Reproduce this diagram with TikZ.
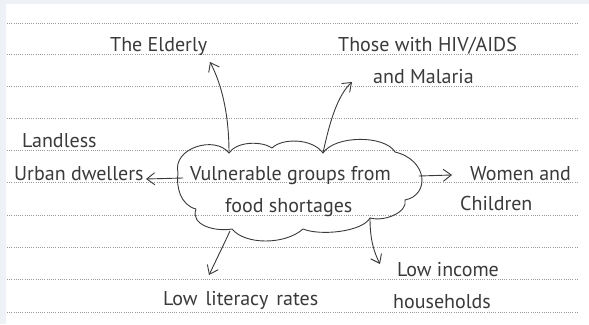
\documentclass[tikz,border=0pt]{standalone}
\usepackage{fontspec}
\setmainfont{PT Sans}
\usetikzlibrary{arrows.meta}
\definecolor{ink}{HTML}{3A3A3A}
\definecolor{rule}{HTML}{9A9A9A}
\definecolor{edge}{HTML}{EEF1F6}
\tikzset{
  lbl/.style={text=ink, inner sep=0pt, anchor=base west, font=\fontsize{20}{24}\selectfont},
  pen/.style={draw=ink, line width=0.9pt, line cap=round, line join=round},
  arr/.style={pen, -{Straight Barb[length=8pt,width=12pt,line width=0.9pt]}},
  ruled/.style={draw=rule, line width=0.6pt, dash pattern=on 1pt off 1.2pt}
}
\begin{document}
\begin{tikzpicture}[x=1pt,y=-1pt]
\useasboundingbox (0,0) rectangle (589,324);
\fill[white] (0,0) rectangle (589,324);
\fill[edge] (0,0) rectangle (589,4);
\fill[edge] (0,0) rectangle (6,324);
% ruled lines
\foreach \yy in {23,54,86,118,150,182,215,247,279,312}
  \draw[ruled] (7,\yy) -- (578,\yy);
% cloud outline
\coordinate (v1) at (178,173);
\coordinate (v2) at (229,153);
\coordinate (v3) at (272,148);
\coordinate (v4) at (323,153);
\coordinate (v5) at (395,152);
\coordinate (v6) at (405,200);
\coordinate (v7) at (370,218);
\coordinate (v8) at (303,229);
\coordinate (v9) at (232,229);
\coordinate (v10) at (196,209);
\draw[pen] (v1) .. controls (172,148) and (215,135) .. (v2)
  .. controls (237,141) and (262,141) .. (v3)
  .. controls (282,138) and (312,138) .. (v4)
  .. controls (335,135) and (385,135) .. (v5)
  .. controls (428,160) and (430,195) .. (v6)
  .. controls (408,212) and (385,222) .. (v7)
  .. controls (362,232) and (320,236) .. (v8)
  .. controls (285,245) and (245,245) .. (v9)
  .. controls (215,232) and (190,225) .. (v10)
  .. controls (180,205) and (176,186) .. (v1);
% texts
\node[lbl] (eld) at (110,51) {The Elderly};
\node[lbl] (hiv1) at (338,51) {Those with HIV/AIDS};
\node[lbl] (hiv2) at (373,83) {and Malaria};
\node[lbl] (urb1) at (22,147) {Landless};
\node[lbl] (urb2) at (14,180) {Urban dwellers};
\node[lbl] (vg1) at (190,180) {Vulnerable groups from};
\node[lbl] (vg2) at (225,212) {food shortages};
\node[lbl] (wom1) at (470,180) {Women and};
\node[lbl] (wom2) at (460,210) {Children};
\node[lbl] (lit) at (163,305) {Low\hspace{8pt}literacy\hspace{8pt}rates};
\node[lbl] (inc1) at (397,276) {Low income};
\node[lbl] (inc2) at (393,308) {households};
% arrow ends
\coordinate (t1) at (210,62);
\coordinate (t2) at (352,82);
\coordinate (cl) at (183,178);
\coordinate (t3) at (146,179);
\coordinate (cr) at (419,176);
\coordinate (t4) at (452,175);
\coordinate (b1) at (230,231);
\coordinate (t5) at (209,275);
\coordinate (t6) at (380,264);
% arrows
\draw[arr] (v2) .. controls (229,115) and (222,85) .. (t1);
\draw[arr] (v4) .. controls (330,120) and (338,95) .. (t2);
\draw[arr] (cl) -- (t3);
\draw[arr] (cr) -- (t4);
\draw[arr] (b1) .. controls (222,248) .. (t5);
\draw[arr] (v7) .. controls (370,240) and (374,252) .. (t6);
\end{tikzpicture}
\end{document}
